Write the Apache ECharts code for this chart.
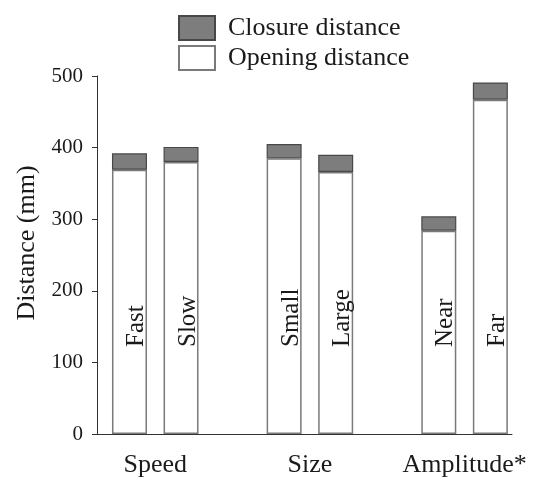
<!DOCTYPE html>
<html>
<head>
<meta charset="utf-8">
<script src="https://cdn.jsdelivr.net/npm/echarts@6/dist/echarts.min.js"></script>
<style>
  html, body { margin: 0; padding: 0; background: #fff; }
  #chart { width: 536px; height: 483px; }
</style>
</head>
<body>
<div id="chart"></div>
<script>
// Hand-movement distances per condition (mm)
const conditions = ['Fast', 'Slow', 'Small', 'Large', 'Near', 'Far'];
const conditionGroup = [0, 0, 1, 1, 2, 2];
const groups = ['Speed', 'Size', 'Amplitude*'];
const openingDistance = [369, 380, 385, 366, 284, 467];
const closureDistance = [23, 21, 20, 24, 20, 24];
const yTicks = [0, 100, 200, 300, 400, 500];

const serif = "'Liberation Serif', 'Times New Roman', serif";
const ink = '#1a1a1a';

// Each group takes two slots followed by one empty slot
const slotOf = conditions.map((c, i) => conditionGroup[i] * 3 + (i % 2));
const groupCentre = groups.map((g, gi) => {
  const s = slotOf.filter((_, i) => conditionGroup[i] === gi);
  return s.reduce((a, b) => a + b, 0) / s.length;
});

// value first, slot second, so the stacked dimension is the distance
const openingData = conditions.map((c, i) => [openingDistance[i], slotOf[i]]);
const closureData = conditions.map((c, i) => [closureDistance[i], slotOf[i]]);

const chart = echarts.init(document.getElementById('chart'), null, { renderer: 'canvas' });

chart.setOption({
  backgroundColor: '#fff',
  animation: false,
  textStyle: { fontFamily: serif },
  legend: {
    data: ['Closure distance', 'Opening distance'],
    orient: 'vertical',
    left: 173,
    top: 10,
    itemWidth: 36,
    itemHeight: 24,
    itemGap: 4,
    icon: 'rect',
    textStyle: { fontFamily: serif, fontSize: 26, color: ink, padding: [0, 0, 0, 8] }
  },
  grid: { left: 97, right: 24, top: 76, bottom: 49 },
  xAxis: {
    type: 'value',
    min: -0.63,
    max: 7.42,
    splitLine: { show: false },
    axisTick: { show: false },
    axisLine: { show: true, onZero: false, lineStyle: { color: '#333', width: 1 } },
    axisLabel: {
      customValues: groupCentre,
      formatter: v => {
        const gi = groupCentre.findIndex(c => Math.abs(c - v) < 1e-6);
        return gi >= 0 ? groups[gi] : '';
      },
      fontFamily: serif,
      fontSize: 26,
      color: ink,
      margin: 18
    }
  },
  yAxis: {
    type: 'value',
    min: yTicks[0],
    max: yTicks[yTicks.length - 1],
    interval: yTicks[1] - yTicks[0],
    name: 'Distance (mm)',
    nameLocation: 'middle',
    nameGap: 57,
    nameTextStyle: { fontFamily: serif, fontSize: 26, color: ink, padding: [0, 0, 0, 24] },
    splitLine: { show: false },
    axisLine: { show: true, onZero: false, lineStyle: { color: '#333', width: 1 } },
    axisTick: { show: true, inside: false, length: 5, lineStyle: { color: '#333' } },
    axisLabel: { fontFamily: serif, fontSize: 21, color: ink, margin: 14 }
  },
  series: [
    {
      name: 'Opening distance',
      type: 'bar',
      stack: 'distance',
      barWidth: 35,
      encode: { x: 1, y: 0 },
      data: openingData,
      itemStyle: { color: '#ffffff', borderColor: '#7a7a7a', borderWidth: 1.5 },
      label: {
        show: true,
        formatter: p => conditions[p.dataIndex],
        position: 'insideBottom',
        distance: 87,
        rotate: 90,
        align: 'left',
        verticalAlign: 'middle',
        offset: [0, 7],
        fontFamily: serif,
        fontSize: 25,
        color: ink
      }
    },
    {
      name: 'Closure distance',
      type: 'bar',
      stack: 'distance',
      barWidth: 35,
      encode: { x: 1, y: 0 },
      data: closureData,
      itemStyle: { color: '#7d7d7d', borderColor: '#484848', borderWidth: 1.2 }
    }
  ]
});
</script>
</body>
</html>
